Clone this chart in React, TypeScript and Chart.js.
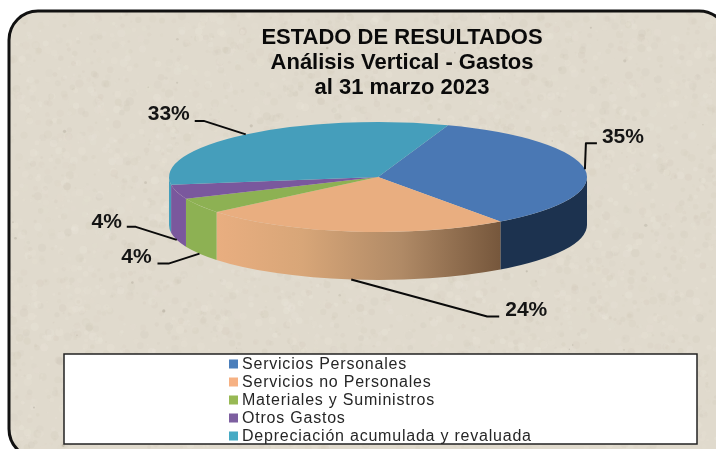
import React, { useEffect, useRef } from "react";
import { Chart, registerables } from "chart.js";

Chart.register(...registerables);

const categories = [
  "Servicios Personales",
  "Servicios no Personales",
  "Materiales y Suministros",
  "Otros Gastos",
  "Depreciación acumulada y revaluada",
];
const values = [34.6, 24, 4.5, 4.2, 32.7];
const percentLabels = ["35%", "24%", "4%", "4%", "33%"];
const topColors = ["#4a78b4", "#e9ae80", "#8db153", "#7a589d", "#459ebb"];
const legendColors = ["#4a7ebb", "#f6b183", "#98b954", "#7d5fa0", "#46aac4"];
const titleLines = ["ESTADO DE RESULTADOS", "Análisis Vertical - Gastos", "al 31 marzo 2023"];

const CX = 378;
const CY = 177;
const RX = 209;
const RY = 55;
const DEPTH = 48;

// leader geometry: elbow offset from anchor, tail length, label centre offset from tail end
const leaders = [
  { wall: false, elbow: [1, -26], tail: 11, text: [26, -6] },
  { wall: true, elbow: [136, 37], tail: 12, text: [27, -6] },
  { wall: true, elbow: [-31, 10], tail: -11, text: [-21, -6] },
  { wall: true, elbow: [-41, -13], tail: -9, text: [-20, -5] },
  { wall: false, elbow: [-42, -13.5], tail: -9, text: [-26, -7] },
];

const project = (a: number, dy = 0) => [CX + RX * Math.cos(a), CY + RY * Math.sin(a) + dy];

const paperPlugin = {
  id: "paper",
  beforeDraw(chart: any) {
    const { ctx, width, height } = chart;
    ctx.save();
    ctx.fillStyle = "#ffffff";
    ctx.fillRect(0, 0, width, height);
    ctx.beginPath();
    ctx.roundRect(9, 11, 719, 447, 29);
    ctx.fillStyle = "#e0dacd";
    ctx.fill();
    ctx.save();
    ctx.clip();
    let seed = 20230331;
    const rnd = () => {
      seed = (seed * 1664525 + 1013904223) % 4294967296;
      return seed / 4294967296;
    };
    for (let i = 0; i < 5200; i++) {
      const x = rnd() * width;
      const y = rnd() * height;
      const r = 0.8 + rnd() * 3.4;
      const light = rnd() > 0.5;
      ctx.fillStyle = light ? `rgba(238,233,222,${0.05 + rnd() * 0.2})` : `rgba(196,187,170,${0.03 + rnd() * 0.12})`;
      ctx.beginPath();
      ctx.arc(x, y, r, 0, Math.PI * 2);
      ctx.fill();
    }
    for (let i = 0; i < 45; i++) {
      ctx.fillStyle = `rgba(150,142,126,${0.12 + rnd() * 0.25})`;
      ctx.beginPath();
      ctx.arc(rnd() * width, rnd() * height, 0.6 + rnd() * 1.1, 0, Math.PI * 2);
      ctx.fill();
    }
    ctx.restore();
    ctx.beginPath();
    ctx.roundRect(9, 11, 719, 447, 29);
    ctx.strokeStyle = "#111111";
    ctx.lineWidth = 3;
    ctx.stroke();
    ctx.restore();
  },
};

const pie3dPlugin = {
  id: "pie3d",
  beforeDatasetsDraw(chart: any) {
    const { ctx } = chart;
    const arcs = chart.getDatasetMeta(0).data;
    const wallColor = (i: number, x0: number, x1: number) => {
      if (i === 0) return "#1c324f";
      if (i === 1) {
        const g = ctx.createLinearGradient(x0, 0, x1, 0);
        g.addColorStop(0, "#e9ae80");
        g.addColorStop(0.3, "#d8a678");
        g.addColorStop(0.65, "#b08a66");
        g.addColorStop(1, "#76573c");
        return g;
      }
      return topColors[i];
    };
    const TAU = Math.PI * 2;
    ctx.save();
    arcs.forEach((arc: any, i: number) => {
      // the part of each slice whose rim faces the viewer, i.e. canvas angles 0..PI
      for (const shift of [0, -TAU, TAU]) {
        const a0 = Math.max(arc.startAngle + shift, 0);
        const a1 = Math.min(arc.endAngle + shift, Math.PI);
        if (a1 <= a0) continue;
        const [x0] = project(a0);
        const [x1] = project(a1);
        ctx.beginPath();
        ctx.ellipse(CX, CY, RX, RY, 0, a0, a1);
        ctx.ellipse(CX, CY + DEPTH, RX, RY, 0, a1, a0, true);
        ctx.closePath();
        ctx.fillStyle = wallColor(i, Math.min(x0, x1), Math.max(x0, x1));
        ctx.fill();
      }
    });
    ctx.restore();
    ctx.save();
    const first = arcs[0];
    ctx.translate(CX, CY);
    ctx.scale(RX / first.outerRadius, RY / first.outerRadius);
    ctx.translate(-first.x, -first.y);
  },
  afterDatasetsDraw(chart: any) {
    const { ctx } = chart;
    ctx.restore();
    const arcs = chart.getDatasetMeta(0).data;
    ctx.save();
    ctx.strokeStyle = "#0a0a0a";
    ctx.lineWidth = 2;
    ctx.lineJoin = "round";
    ctx.fillStyle = "#141414";
    ctx.font = 'bold 21px "Liberation Sans"';
    ctx.textAlign = "center";
    ctx.textBaseline = "middle";
    arcs.forEach((arc: any, i: number) => {
      const mid = (arc.startAngle + arc.endAngle) / 2;
      const l = leaders[i];
      const [ax, ay] = project(mid, l.wall ? DEPTH : 0);
      const ex = ax + l.elbow[0];
      const ey = ay + l.elbow[1];
      ctx.beginPath();
      ctx.moveTo(ax, ay);
      ctx.lineTo(ex, ey);
      ctx.lineTo(ex + l.tail, ey);
      ctx.stroke();
      ctx.fillText(percentLabels[i], ex + l.tail + l.text[0], ey + l.text[1]);
    });
    ctx.restore();
  },
};

const legendBoxPlugin = {
  id: "legendBox",
  afterDraw(chart: any) {
    const { ctx } = chart;
    ctx.save();
    ctx.fillStyle = "#ffffff";
    ctx.fillRect(64, 354, 633, 90);
    ctx.strokeStyle = "#222222";
    ctx.lineWidth = 1.5;
    ctx.strokeRect(64, 354, 633, 90);
    ctx.font = '16px "Liberation Sans"';
    (ctx as any).letterSpacing = "0.78px";
    ctx.textBaseline = "middle";
    ctx.textAlign = "left";
    categories.forEach((name, i) => {
      const y = 364 + i * 18;
      ctx.fillStyle = legendColors[i];
      ctx.fillRect(229, y - 4.5, 9, 9);
      ctx.fillStyle = "#262626";
      ctx.fillText(name, 242, y + 1);
    });
    ctx.restore();
  },
};

export default function App() {
  const ref = useRef<HTMLCanvasElement>(null);
  useEffect(() => {
    const chart = new Chart(ref.current!, {
      type: "pie",
      data: {
        labels: categories,
        datasets: [
          {
            data: values,
            backgroundColor: topColors,
            borderWidth: 0,
            clip: false,
          } as any,
        ],
      },
      options: {
        responsive: false,
        animation: false,
        rotation: 19.6,
        radius: 200,
        layout: { padding: { left: 88 } },
        plugins: {
          legend: { display: false },
          tooltip: { enabled: false },
          title: {
            display: true,
            text: titleLines,
            fullSize: false,
            color: "#0a0a0a",
            font: { family: '"Liberation Sans"', size: 22, weight: "bold", lineHeight: 1.136 },
            padding: { top: 25, bottom: 0 },
          },
        },
      } as any,
      plugins: [paperPlugin, pie3dPlugin, legendBoxPlugin],
    });
    return () => chart.destroy();
  }, []);
  return (
    <div style={{ position: "fixed", left: 0, top: 0, width: 716, height: 449 }}>
      <canvas ref={ref} width={716} height={449} style={{ display: "block", filter: "blur(0.4px)" }} />
    </div>
  );
}
